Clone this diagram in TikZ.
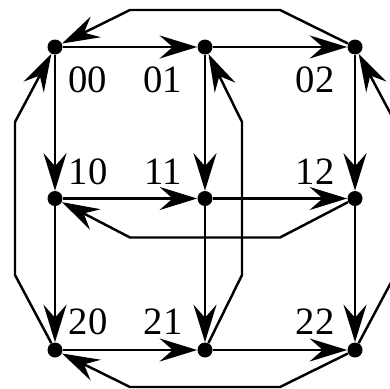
\documentclass[tikz,border=0pt]{standalone}
\usepackage{fontspec}
\setmainfont{Liberation Serif}
\usetikzlibrary{arrows.meta,calc}

\begin{document}
\begin{tikzpicture}[
  dot/.style={circle,fill=black,inner sep=0pt,minimum size=0.3cm},
  lbl/.style={font=\fontsize{22}{26}\selectfont,inner sep=0pt},
  edge/.style={-{Stealth[length=7.5mm,width=4.6mm,inset=2.6mm]},line width=1.4pt,draw=black}
]
  \clip (-1.1,-6.82) rectangle (6.7,0.94);
  % grid points
  \node[dot] (n00) at (0,0) {};
  \node[dot] (n01) at (3,0) {};
  \node[dot] (n02) at (6,0) {};
  \node[dot] (n10) at (0,-3.03) {};
  \node[dot] (n11) at (3,-3.03) {};
  \node[dot] (n12) at (6,-3.03) {};
  \node[dot] (n20) at (0,-6.06) {};
  \node[dot] (n21) at (3,-6.06) {};
  \node[dot] (n22) at (6,-6.06) {};
  % labels
  \node[lbl] (l00) at ($(n00)+(0.65,-0.66)$) {00};
  \node[lbl] (l01) at ($(n01)+(-0.85,-0.66)$) {01};
  \node[lbl] (l02) at ($(n02)+(-0.8,-0.66)$) {02};
  \node[lbl] (l10) at ($(n10)+(0.66,0.54)$) {10};
  \node[lbl] (l11) at ($(n11)+(-0.84,0.54)$) {11};
  \node[lbl] (l12) at ($(n12)+(-0.8,0.54)$) {12};
  \node[lbl] (l20) at ($(n20)+(0.66,0.56)$) {20};
  \node[lbl] (l21) at ($(n21)+(-0.84,0.56)$) {21};
  \node[lbl] (l22) at ($(n22)+(-0.8,0.56)$) {22};
  % rows
  \draw[edge] (n00) -- (n01);
  \draw[edge] (n01) -- (n02);
  \draw[edge] (n10) -- (n11);
  \draw[edge] (n11) -- (n12);
  \draw[edge] (n20) -- (n21);
  \draw[edge] (n21) -- (n22);
  % columns
  \draw[edge] (n00) -- (n10);
  \draw[edge] (n10) -- (n20);
  \draw[edge] (n01) -- (n11);
  \draw[edge] (n11) -- (n21);
  \draw[edge] (n02) -- (n12);
  \draw[edge] (n12) -- (n22);
  % wrap-around
  \draw[edge] (n02) -- ($(n02)+(-1.5,0.74)$) -- ($(n00)+(1.5,0.74)$) -- (n00);
  \draw[edge] (n12) -- ($(n12)+(-1.5,-0.78)$) -- ($(n10)+(1.5,-0.78)$) -- (n10);
  \draw[edge] (n22) -- ($(n22)+(-1.5,-0.74)$) -- ($(n20)+(1.5,-0.74)$) -- (n20);
  \draw[edge] (n20) -- ($(n20)+(-0.8,1.5)$) -- ($(n00)+(-0.8,-1.5)$) -- (n00);
  \draw[edge] (n21) -- ($(n21)+(0.74,1.5)$) -- ($(n01)+(0.74,-1.5)$) -- (n01);
  \draw[edge] (n22) -- ($(n22)+(0.8,1.5)$) -- ($(n02)+(0.8,-1.5)$) -- (n02);
\end{tikzpicture}
\end{document}
